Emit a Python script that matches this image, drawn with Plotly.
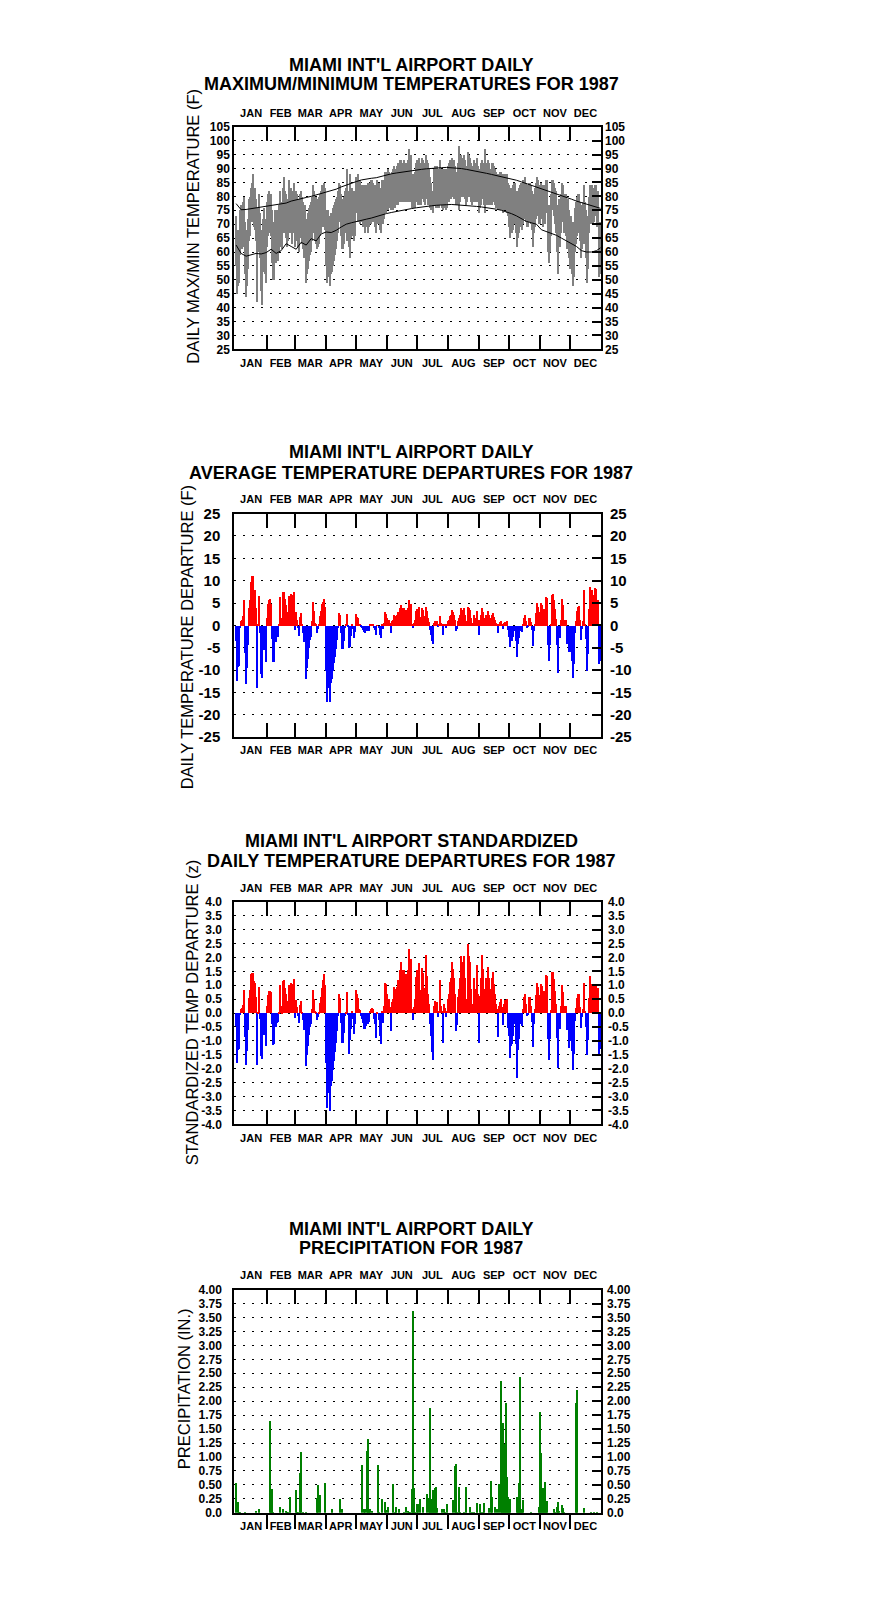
import numpy as np
import plotly.graph_objects as go

# page has the browser's default 8px body margin; the figure fills the rest
PAGE_W, PAGE_H, OFF = 876, 1606, 8
W, H = PAGE_W - 2 * OFF, PAGE_H - 2 * OFF
FONT = "Liberation Sans, Arial, sans-serif"

MONTHS = ["JAN", "FEB", "MAR", "APR", "MAY", "JUN", "JUL", "AUG", "SEP", "OCT", "NOV", "DEC"]
MONTH_START = [0, 31, 59, 90, 120, 151, 181, 212, 243, 273, 304, 334, 365]

# ---------------- daily maximum / minimum temperature (F), one list per month
tmax = [
    [73, 66, 68, 68, 75, 77, 77, 78, 80, 71, 65, 68, 72, 79, 80, 83, 85, 88, 82, 83, 79, 64, 76, 81, 74, 67, 68, 72, 76, 72, 70],
    [78, 81, 82, 80, 81, 75, 70, 71, 75, 74, 75, 75, 77, 82, 78, 77, 83, 87, 82, 81, 79, 79, 86, 82, 83, 79, 82, 85],
    [79, 82, 81, 79, 78, 81, 82, 80, 78, 77, 77, 70, 72, 74, 76, 77, 78, 80, 84, 82, 80, 80, 78, 79, 80, 81, 82, 84, 84, 85, 83],
    [75, 71, 75, 73, 70, 74, 74, 76, 77, 78, 79, 80, 82, 85, 84, 81, 79, 79, 80, 82, 83, 90, 82, 79, 88, 81, 83, 82, 81, 82],
    [87, 86, 88, 85, 86, 84, 83, 84, 83, 84, 83, 84, 85, 83, 85, 86, 86, 85, 84, 84, 83, 86, 85, 85, 83, 82, 86, 85, 86, 89, 88],
    [89, 90, 89, 88, 85, 89, 90, 91, 88, 90, 91, 92, 91, 93, 93, 91, 92, 93, 91, 92, 91, 93, 97, 93, 95, 88, 86, 88, 89, 92],
    [93, 91, 94, 92, 91, 94, 93, 92, 91, 95, 93, 92, 90, 87, 85, 82, 80, 90, 91, 90, 91, 89, 90, 93, 90, 90, 86, 90, 90, 89, 90],
    [91, 92, 93, 93, 94, 93, 93, 91, 88, 89, 92, 98, 94, 95, 94, 93, 95, 93, 91, 91, 96, 95, 94, 92, 91, 90, 93, 92, 91, 94, 91],
    [86, 90, 92, 93, 92, 90, 97, 92, 90, 93, 92, 89, 90, 92, 92, 91, 90, 89, 88, 85, 88, 89, 89, 88, 86, 88, 88, 87, 88, 85],
    [84, 81, 83, 83, 84, 85, 85, 82, 80, 82, 83, 84, 85, 84, 86, 86, 87, 85, 84, 84, 85, 85, 84, 82, 78, 81, 83, 85, 87, 86, 84],
    [83, 85, 84, 83, 84, 83, 86, 86, 77, 74, 77, 81, 86, 86, 85, 83, 82, 77, 72, 79, 78, 81, 85, 84, 81, 81, 81, 76, 79, 75],
    [73, 73, 71, 68, 71, 76, 78, 80, 81, 81, 78, 75, 77, 78, 84, 78, 75, 70, 73, 80, 84, 82, 84, 82, 83, 84, 84, 82, 82, 71, 71],
]
tmin = [
    [55, 45, 48, 49, 59, 61, 61, 62, 66, 52, 44, 48, 54, 64, 66, 71, 73, 71, 69, 68, 64, 42, 60, 67, 58, 46, 41, 53, 57, 52, 49],
    [62, 66, 67, 69, 66, 56, 50, 50, 57, 56, 57, 57, 60, 68, 62, 61, 69, 67, 67, 65, 62, 64, 68, 67, 69, 63, 68, 67],
    [62, 67, 64, 62, 60, 65, 66, 63, 61, 58, 59, 49, 52, 54, 57, 59, 60, 64, 69, 67, 64, 63, 61, 62, 63, 66, 67, 69, 69, 70, 68],
    [55, 49, 55, 51, 48, 52, 53, 55, 57, 59, 61, 64, 67, 71, 71, 66, 61, 61, 63, 67, 68, 64, 67, 62, 58, 65, 68, 66, 64, 66],
    [74, 74, 71, 71, 70, 71, 71, 69, 69, 67, 69, 70, 67, 69, 71, 70, 71, 72, 71, 69, 67, 70, 71, 70, 68, 67, 71, 70, 72, 74, 74],
    [77, 75, 76, 76, 75, 76, 75, 76, 76, 77, 77, 77, 78, 78, 79, 78, 79, 78, 78, 78, 78, 78, 79, 78, 78, 76, 76, 76, 76, 78],
    [79, 77, 79, 77, 77, 79, 79, 78, 77, 79, 79, 77, 77, 76, 75, 75, 74, 77, 77, 76, 77, 76, 76, 77, 77, 76, 75, 76, 76, 75, 76],
    [78, 78, 79, 79, 80, 80, 79, 79, 77, 77, 78, 75, 78, 80, 80, 80, 80, 79, 77, 78, 80, 80, 80, 78, 77, 78, 79, 78, 78, 79, 78],
    [74, 76, 77, 80, 79, 77, 74, 77, 77, 78, 77, 77, 78, 77, 78, 78, 77, 76, 76, 75, 76, 75, 76, 75, 74, 75, 75, 75, 74, 73],
    [69, 65, 67, 67, 68, 70, 70, 67, 62, 65, 67, 69, 70, 68, 70, 72, 72, 71, 69, 69, 71, 71, 70, 68, 62, 67, 69, 72, 74, 73, 70],
    [70, 72, 72, 69, 71, 70, 74, 74, 60, 56, 60, 66, 75, 75, 73, 70, 67, 60, 52, 63, 62, 67, 73, 71, 67, 67, 66, 61, 65, 58],
    [54, 55, 52, 48, 51, 60, 63, 66, 67, 68, 64, 58, 61, 63, 72, 63, 58, 49, 54, 67, 73, 70, 72, 70, 71, 73, 73, 69, 69, 51, 52],
]

# normal max / min curves (read every 5 days)
normal_day = list(range(0, 361, 5)) + [364]
normal_max = [77.4, 75.2, 75.3, 75.6, 75.8, 76.0, 76.3, 76.6, 77.0, 77.4,
              77.6, 78.3, 78.8, 79.2, 79.6, 80.0, 80.5, 81.0, 81.5, 82.0,
              82.6, 83.4, 84.1, 84.8, 85.3, 85.9, 86.3, 86.5, 86.7, 87.2,
              87.7, 88.1, 88.4, 88.7, 89.0, 89.3, 89.5, 89.7, 89.9, 90.1,
              90.2, 90.3, 90.4, 90.3, 90.2, 90.0, 89.7, 89.4, 89.1, 88.7,
              88.3, 87.9, 87.5, 87.1, 86.8, 86.4, 85.8, 85.2, 84.6, 83.9,
              83.2, 82.6, 82.0, 81.4, 80.9, 80.3, 79.7, 79.0, 78.3, 77.7,
              77.1, 76.5, 76.0, 75.7]
normal_min = [62.5, 59.5, 58.5, 59.0, 59.5, 59.3, 59.8, 61.0, 59.5, 60.5,
              63.0, 62.0, 61.0, 63.5, 62.5, 64.8, 64.0, 66.5, 67.2, 67.0,
              67.8, 69.0, 70.0, 70.5, 71.0, 71.3, 71.8, 72.2, 72.8, 73.3,
              73.8, 74.2, 74.6, 75.0, 75.3, 75.6, 75.9, 76.2, 76.4, 76.6,
              76.8, 77.0, 77.0, 77.1, 77.0, 76.9, 76.8, 76.6, 76.4, 76.2,
              76.0, 75.7, 75.4, 75.0, 74.5, 73.8, 73.0, 72.0, 71.0, 70.5,
              70.0, 68.0, 67.3, 66.8, 66.0, 65.0, 64.0, 63.0, 62.0, 60.5,
              60.0, 60.0, 60.5, 61.5]

# ---------------- daily average temperature departure (F)
departure = [
    [-3.3, -12.4, -9.2, -9.0, -0.5, 1.1, 1.3, 2.2, 5.8, -6.0, -13.0, -9.5, -4.2, 3.9, 5.8, 9.8, 11.2, 11.2, 8.1, 8.1, 4.0, -14.0, 0.3, 6.7, -1.5, -10.8, -11.6, -5.4, -1.5, -5.4, -8.2],
    [1.8, 4.8, 5.8, 5.9, 4.8, -2.9, -8.2, -8.0, -2.7, -3.6, -2.6, -2.4, 0.3, 6.5, 1.8, 0.4, 7.5, 7.5, 5.9, 4.6, 2.0, 3.0, 6.6, 6.1, 7.2, 2.5, 6.8, 7.6],
    [-1.0, 3.0, 1.3, -0.5, -2.2, 1.9, 2.8, 0.4, -1.6, -3.7, -3.3, -12.0, -9.5, -7.5, -4.9, -3.1, -2.4, 1.0, 5.3, 3.3, 0.6, 0.4, -1.5, -0.8, 0.2, 2.3, 3.2, 4.8, 5.3, 6.0, 4.3],
    [-10.2, -17.0, -10.5, -13.8, -17.0, -12.8, -12.0, -10.0, -8.3, -6.9, -5.3, -3.2, -0.5, 2.8, 2.5, -1.6, -5.3, -5.2, -3.5, -0.5, 0.3, 2.6, -0.3, -4.9, -4.8, -2.2, 0.4, -0.8, -2.7, -1.4],
    [2.6, 2.0, 1.7, 0.4, 0.4, -0.3, -0.6, -0.9, -1.4, -1.5, -1.2, -0.6, -1.1, -1.1, 0.2, 0.4, 0.5, 0.4, -0.5, -1.0, -2.1, 0.1, 0.0, -0.6, -2.1, -2.7, 0.2, -0.8, 0.6, 3.0, 2.6],
    [1.7, 1.0, 1.3, 0.6, -1.6, 1.0, 1.3, 2.4, 0.6, 2.2, 2.4, 3.0, 3.0, 3.9, 4.6, 3.0, 3.9, 3.9, 3.0, 3.5, 3.0, 3.9, 5.8, 3.9, 4.9, 0.4, -0.6, 0.6, 1.3, 3.3],
    [3.7, 1.5, 4.3, 2.0, 1.3, 3.9, 3.5, 2.2, 1.3, 4.3, 3.2, 1.7, 0.8, -0.9, -2.0, -3.3, -4.0, 0.6, 1.1, 0.4, 1.0, -0.3, 0.2, 2.2, 0.6, 0.2, -2.0, 0.4, 0.3, -0.6, 0.2],
    [1.0, 1.3, 2.1, 2.4, 3.5, 3.0, 2.4, 1.3, -1.2, -0.8, 1.1, 1.7, 2.4, 3.9, 3.5, 2.8, 3.9, 2.4, 0.6, 1.0, 4.3, 3.9, 3.5, 1.7, 0.6, 0.6, 2.4, 1.7, 1.3, 3.3, 1.3],
    [-2.0, 1.2, 2.4, 4.0, 3.0, 1.0, 1.7, 2.4, 1.3, 3.2, 2.4, 0.6, 1.7, 2.4, 2.8, 2.0, 1.3, 0.6, 0.3, -1.6, 0.5, 0.8, 1.0, 0.4, -0.8, 0.6, 0.9, 0.6, 1.0, -1.0],
    [-2.4, -4.8, -3.5, -3.3, -2.4, -1.2, -0.9, -3.3, -7.0, -4.0, -2.8, -1.2, -0.5, -1.4, 0.5, 1.7, 2.4, 1.0, -0.5, -0.2, 1.8, 1.8, 0.8, -1.0, -4.6, -1.2, 0.5, 2.8, 5.0, 4.3, 2.0],
    [3.0, 5.0, 4.6, 2.5, 3.8, 3.0, 6.5, 6.3, -4.4, -7.9, -4.4, 0.5, 6.9, 7.2, 5.8, 3.7, 1.5, -4.2, -10.6, -2.4, -2.7, 1.3, 6.1, 4.6, 1.3, 1.3, 1.3, -4.0, -1.0, -5.8],
    [-5.8, -5.5, -7.9, -11.7, -8.5, -1.5, 1.1, 3.2, 4.1, 4.5, 1.2, -3.1, -0.8, 1.0, 8.1, 0.5, -2.9, -10.0, -6.2, 3.7, 8.7, 6.1, 8.0, 5.8, 6.9, 8.5, 8.3, 5.7, 5.7, -8.5, -7.9],
]

# ---------------- standardized daily departure (z)
zscore = [
    [-0.47, -1.77, -1.31, -1.29, -0.07, 0.16, 0.19, 0.31, 0.83, -0.86, -1.86, -1.36, -0.60, 0.56, 0.83, 1.40, 1.45, 1.45, 1.16, 1.10, 0.57, -1.85, 0.04, 0.96, -0.21, -1.54, -1.66, -0.77, -0.21, -0.77, -1.17],
    [0.25, 0.67, 0.80, 0.80, 0.75, -0.40, -1.14, -1.11, -0.38, -0.50, -0.36, -0.33, 0.04, 1.00, 0.25, 0.06, 1.17, 1.20, 0.90, 0.70, 0.30, 0.45, 1.00, 0.95, 1.10, 0.40, 1.05, 1.25],
    [-0.16, 0.48, 0.21, -0.08, -0.35, 0.30, 0.44, 0.06, -0.25, -0.59, -0.52, -1.90, -1.51, -1.19, -0.78, -0.49, -0.38, 0.16, 0.84, 0.52, 0.10, 0.06, -0.24, -0.13, 0.03, 0.37, 0.60, 0.90, 1.20, 1.42, 1.00],
    [-1.80, -3.40, -2.35, -2.85, -3.50, -2.62, -2.45, -2.05, -1.70, -1.40, -1.08, -0.65, -0.10, 0.70, 0.55, -0.35, -1.05, -1.05, -0.72, -0.10, 0.06, 0.78, -0.06, -1.45, -0.95, -0.55, 0.10, -0.20, -0.75, -0.40],
    [0.85, 0.70, 0.55, 0.15, 0.12, -0.10, -0.22, -0.35, -0.55, -0.55, -0.45, -0.25, -0.40, -0.30, 0.08, 0.15, 0.20, 0.15, -0.20, -0.40, -0.88, 0.04, 0.00, -0.25, -0.80, -1.10, 0.08, -0.35, 0.25, 1.10, 1.05],
    [0.68, 0.40, 0.52, 0.24, -0.64, 0.40, 0.52, 0.96, 0.24, 0.88, 0.96, 1.20, 1.20, 1.56, 1.84, 1.20, 1.56, 1.56, 1.20, 1.40, 1.20, 1.56, 2.30, 1.56, 1.96, 0.16, -0.24, 0.24, 0.52, 1.32],
    [1.54, 0.63, 1.79, 0.83, 0.54, 1.63, 1.46, 0.92, 0.54, 2.10, 1.33, 0.71, 0.33, -0.38, -0.83, -1.38, -1.67, 0.25, 0.46, 0.17, 0.42, -0.13, 0.08, 1.20, 0.25, 0.08, -1.05, 0.35, 0.20, -0.15, 0.10],
    [0.53, 0.68, 1.11, 1.26, 1.84, 1.58, 1.26, 0.68, -0.63, -0.42, 0.58, 0.89, 1.26, 2.05, 1.84, 1.47, 2.05, 1.26, 0.32, 0.53, 2.50, 2.05, 1.84, 0.89, 0.32, 0.32, 1.26, 0.89, 0.68, 1.74, 0.68],
    [-1.05, 0.63, 1.26, 2.10, 1.58, 0.53, 0.89, 1.26, 0.68, 1.68, 1.26, 0.32, 0.89, 1.26, 1.47, 1.05, 0.68, 0.32, 0.16, -0.84, 0.26, 0.42, 0.53, 0.21, -0.42, 0.32, 0.47, 0.32, 0.53, -0.53],
    [-0.80, -1.60, -1.17, -1.10, -0.80, -0.40, -0.30, -1.10, -2.33, -1.33, -0.93, -0.40, -0.17, -0.47, 0.17, 0.57, 0.70, 0.33, -0.10, -0.07, 0.60, 0.60, 0.27, -0.33, -1.20, -0.40, 0.17, 0.65, 1.10, 0.95, 0.45],
    [0.64, 1.06, 0.98, 0.53, 0.81, 0.64, 1.38, 1.34, -0.94, -1.68, -0.94, 0.11, 1.47, 1.50, 1.23, 0.79, 0.32, -0.89, -1.95, -0.51, -0.57, 0.28, 1.00, 0.75, 0.28, 0.28, 0.25, -0.60, -0.20, -1.25],
    [-1.00, -0.95, -1.36, -2.02, -1.47, -0.26, 0.19, 0.55, 0.71, 0.68, 0.21, -0.53, -0.14, 0.17, 1.10, 0.09, -0.50, -1.50, -0.95, 0.55, 1.35, 0.90, 1.05, 0.85, 1.00, 1.05, 1.05, 0.85, 0.90, -1.45, -1.30],
]

# ---------------- daily precipitation (in.), only days with rain
precip_day = [0, 2, 3, 4, 9, 20, 23, 34, 35, 36, 37, 44, 47, 50, 51, 52, 54, 60, 61, 62,
              64, 65, 67, 70, 81, 82, 84, 89, 96, 104, 106, 126, 128, 129, 131, 132, 133, 134, 136, 142,
              143, 146, 149, 150, 152, 157, 159, 160, 163, 168, 170, 172, 173, 174, 176, 177, 178, 179, 181, 182,
              184, 187, 191, 193, 194, 195, 196, 197, 198, 199, 200, 201, 206, 208, 209, 211, 217, 219, 220, 221,
              223, 224, 228, 230, 234, 236, 238, 241, 244, 245, 247, 248, 253, 255, 256, 259, 261, 263, 265, 266,
              267, 268, 269, 270, 271, 272, 273, 274, 281, 282, 283, 284, 285, 286, 287, 295, 303, 304, 305, 306,
              307, 308, 309, 310, 311, 318, 319, 321, 322, 323, 326, 327, 328, 340, 341, 348, 355, 358, 361]
precip_in = [0.55, 0.21, 0.02, 0.02, 0.01, 0.05, 0.07, 1.65, 0.02, 0.43, 0.02, 0.11, 0.07, 0.05, 0.02, 0.02, 0.30, 0.41, 0.02, 0.02,
             0.72, 1.10, 0.02, 0.01, 0.28, 0.50, 0.32, 0.54, 0.07, 0.25, 0.07, 0.87, 0.07, 0.07, 1.12, 1.33, 0.03, 0.08, 0.04, 0.87,
             0.02, 0.26, 0.20, 0.06, 0.11, 0.52, 0.02, 0.11, 0.08, 0.02, 0.11, 0.05, 0.02, 0.02, 0.43, 3.63, 0.46, 0.02, 0.16, 0.16,
             0.25, 0.12, 0.34, 0.27, 1.88, 0.25, 0.10, 0.42, 0.40, 0.45, 0.47, 0.10, 0.07, 0.07, 0.02, 0.17, 0.24, 0.84, 0.88, 0.03,
             0.47, 0.02, 0.02, 0.47, 0.11, 0.02, 0.02, 0.18, 0.16, 0.02, 0.02, 0.18, 0.10, 0.57, 0.30, 0.12, 0.08, 0.52, 2.37, 0.02,
             1.62, 1.24, 0.02, 1.97, 0.65, 0.30, 0.22, 0.25, 0.30, 0.17, 0.55, 2.45, 0.02, 0.07, 0.23, 0.02, 0.12, 1.82, 1.08, 0.45,
             0.45, 0.02, 0.56, 0.06, 0.22, 0.07, 0.02, 0.12, 0.20, 0.05, 0.15, 0.10, 0.02, 1.98, 2.21, 0.10, 0.02, 0.02, 0.02]

# ---------------- tick labels
temp_ticks = list(range(25, 106, 5))
dep_ticks = list(range(-25, 26, 5))
z_ticks = [-4.0, -3.5, -3.0, -2.5, -2.0, -1.5, -1.0, -0.5, 0.0, 0.5, 1.0, 1.5, 2.0, 2.5, 3.0, 3.5, 4.0]
pcp_ticks = [0.0, 0.25, 0.5, 0.75, 1.0, 1.25, 1.5, 1.75, 2.0, 2.25, 2.5, 2.75, 3.0, 3.25, 3.5, 3.75, 4.0]
temp_text = [str(v) for v in temp_ticks]
dep_text = [str(v) for v in dep_ticks]
z_text = [f"{v:.1f}" for v in z_ticks]
pcp_text = ["0.0"] + [f"{v:.2f}" for v in pcp_ticks[1:]]

def flat(m):
    return np.array([v for month in m for v in month], dtype=float)

TMAX, TMIN, DEP, Z = flat(tmax), flat(tmin), flat(departure), flat(zscore)
for name, arr in (("tmax", TMAX), ("tmin", TMIN), ("dep", DEP), ("z", Z)):
    assert len(arr) == 365, (name, len(arr))
assert len(precip_day) == len(precip_in)

day_c = np.arange(365) + 0.5
mid = [(MONTH_START[i] + MONTH_START[i + 1]) / 2 for i in range(12)]
bounds = MONTH_START[1:12]

# ---------------- geometry (page pixels)
XL, XR = 234.3, 601.0
XRANGE = [-1.3, 365.0]

def px(x):
    return (x - OFF) / W

def py(y):
    return 1 - (y - OFF) / H

panels = [
    dict(top=119, bot=344, yr=[25, 105], tv=temp_ticks, tt=temp_text, fs=12, ls=0, rs=3,
         titles=[("MIAMI INT'L AIRPORT DAILY", 57), ("MAXIMUM/MINIMUM TEMPERATURES FOR 1987", 76)],
         ytitle=("DAILY MAX/MIN TEMPERATURE (F)", 193, 220), btick="inside"),
    dict(top=510, bot=736, yr=[-25, 25], tv=dep_ticks, tt=dep_text, fs=15, ls=9, rs=8,
         titles=[("MIAMI INT'L AIRPORT DAILY", 448), ("AVERAGE TEMPERATURE DEPARTURES FOR 1987", 469)],
         ytitle=("DAILY TEMPERATURE DEPARTURE (F)", 187, 635), btick="inside"),
    dict(top=902.3, bot=1127.3, yr=[-4, 4], tv=z_ticks, tt=z_text, fs=12, ls=8, rs=6,
         titles=[("MIAMI INT'L AIRPORT STANDARDIZED", 841), ("DAILY TEMPERATURE DEPARTURES FOR 1987", 861)],
         ytitle=("STANDARDIZED TEMP DEPARTURE (z)", 192, 1014), btick="inside"),
    dict(top=1294.3, bot=1520, yr=[0, 4], tv=pcp_ticks, tt=pcp_text, fs=12, ls=8, rs=5,
         titles=[("MIAMI INT'L AIRPORT DAILY", 1233), ("PRECIPITATION FOR 1987", 1252)],
         ytitle=("PRECIPITATION (IN.)", 184, 1395), btick="outside"),
]

def aid(letter, n):
    return letter if n == 1 else f"{letter}{n}"

def akey(letter, n):
    return f"{letter}axis" if n == 1 else f"{letter}axis{n}"

fig = go.Figure()
layout = dict(width=W, height=H, margin=dict(l=0, r=0, t=0, b=0),
              paper_bgcolor="white", plot_bgcolor="white", showlegend=False,
              bargap=0, barmode="overlay", font=dict(family=FONT, color="black"))
annotations = []

month_font = dict(family=FONT, size=11, color="black", weight="bold")

for i, p in enumerate(panels):
    nb, nt = 2 * i + 1, 2 * i + 2
    xb, xt, yl, yr_ = aid("x", nb), aid("x", nt), aid("y", nb), aid("y", nt)
    dom_y = [py(p["bot"]), py(p["top"])]
    dom_x = [px(XL), px(XR)]
    tick_font = dict(family=FONT, size=p["fs"], color="black", weight="bold")

    layout[akey("x", nb)] = dict(
        domain=dom_x, anchor=yl, range=XRANGE, tickmode="array", tickvals=mid, ticktext=MONTHS,
        ticks="", showline=True, linecolor="black", linewidth=2, mirror=True,
        showgrid=False, zeroline=False, tickfont=month_font, fixedrange=True, ticklabelstandoff=2,
        minor=dict(tickmode="array", tickvals=bounds, ticks=p["btick"], ticklen=14,
                   tickwidth=2, tickcolor="black", showgrid=False))
    layout[akey("x", nt)] = dict(
        overlaying=xb, side="top", anchor=yl, range=XRANGE, tickmode="array", tickvals=mid,
        ticktext=MONTHS, ticks="", showline=False, showgrid=False, zeroline=False,
        tickfont=month_font, fixedrange=True, ticklabelstandoff=7,
        minor=dict(tickmode="array", tickvals=bounds, ticks="inside", ticklen=14,
                   tickwidth=2, tickcolor="black", showgrid=False))
    layout[akey("y", nb)] = dict(
        domain=dom_y, anchor=xb, range=p["yr"], tickmode="array", tickvals=p["tv"], ticktext=p["tt"],
        ticks="", showline=True, linecolor="black", linewidth=2, mirror=True,
        showgrid=True, gridcolor="black", gridwidth=1, griddash="2px,7px",
        zeroline=False, tickfont=tick_font, fixedrange=True, ticklabelstandoff=p["ls"])
    layout[akey("y", nt)] = dict(
        overlaying=yl, side="right", anchor=xb, range=p["yr"], tickmode="array", tickvals=p["tv"],
        ticktext=p["tt"], ticks="inside", ticklen=9, tickwidth=1.5, tickcolor="black",
        showline=False, showgrid=False, zeroline=False, tickfont=tick_font, fixedrange=True,
        ticklabelstandoff=p["rs"])

    # invisible anchors so the top and right axes are drawn
    fig.add_trace(go.Scatter(x=[XRANGE[0]], y=[p["yr"][0]], mode="markers", marker=dict(opacity=0),
                             hoverinfo="skip", xaxis=xt, yaxis=yl))
    fig.add_trace(go.Scatter(x=[XRANGE[0]], y=[p["yr"][0]], mode="markers", marker=dict(opacity=0),
                             hoverinfo="skip", xaxis=xb, yaxis=yr_))

    for text, yy in p["titles"]:
        annotations.append(dict(text=text, x=px(411), y=py(yy), xref="paper", yref="paper",
                                xanchor="center", yanchor="middle", showarrow=False,
                                font=dict(family=FONT, size=18, color="black", weight="bold")))
    t, tx, ty = p["ytitle"]
    annotations.append(dict(text=t, x=px(tx), y=py(ty), xref="paper", yref="paper",
                            xanchor="center", yanchor="middle", showarrow=False, textangle=-90,
                            font=dict(family=FONT, size=16.5, color="black")))

# panel 1: daily range bars + normals
fig.add_trace(go.Bar(x=day_c, y=TMAX - TMIN, base=TMIN, width=1.0,
                     marker=dict(color="#808080", line=dict(width=0)),
                     xaxis="x", yaxis="y"))
nd = np.array(normal_day) + 0.5
fig.add_trace(go.Scatter(x=nd, y=normal_max, mode="lines", line=dict(color="black", width=1),
                         xaxis="x", yaxis="y"))
fig.add_trace(go.Scatter(x=nd, y=normal_min, mode="lines", line=dict(color="black", width=1),
                         xaxis="x", yaxis="y"))

# panel 2: departures
fig.add_trace(go.Bar(x=day_c, y=DEP, width=1.0,
                     marker=dict(color=np.where(DEP >= 0, "#ff0000", "#0000ff"), line=dict(width=0)),
                     xaxis="x3", yaxis="y3"))
# panel 3: standardized departures
fig.add_trace(go.Bar(x=day_c, y=Z, width=1.0,
                     marker=dict(color=np.where(Z >= 0, "#ff0000", "#0000ff"), line=dict(width=0)),
                     xaxis="x5", yaxis="y5"))
# panel 4: precipitation
fig.add_trace(go.Bar(x=np.array(precip_day) + 0.5, y=precip_in, width=1.0,
                     marker=dict(color="#008000", line=dict(width=0)),
                     xaxis="x7", yaxis="y7"))

layout["annotations"] = annotations
fig.update_layout(**layout)
fig.write_html("out.html", config=dict(displayModeBar=False))
